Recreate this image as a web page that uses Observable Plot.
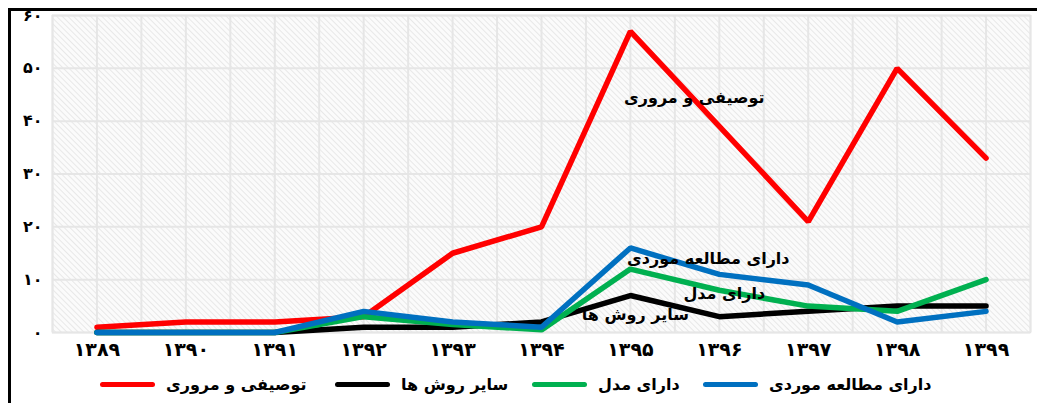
<!DOCTYPE html>
<html>
<head>
<meta charset="utf-8">
<script src="https://cdn.jsdelivr.net/npm/d3@7"></script>
<script src="https://cdn.jsdelivr.net/npm/@observablehq/plot@0.6"></script>
<style>
  html, body { margin: 0; padding: 0; background: #fff; }
  body { width: 1037px; height: 403px; position: relative; overflow: hidden; font-family: "DejaVu Sans", sans-serif; }
  #frame { position: absolute; left: 8px; top: 8px; width: 1100px; height: 500px; border-left: 3px solid #000; border-top: 3px solid #000; }
  #chart { position: absolute; left: 0; top: 0; }
  #legend { position: absolute; left: 0; top: 370px; width: 1037px; height: 28px; }
  .item { position: absolute; top: 0; height: 28px; display: flex; align-items: center; }
  .swatch { width: 55px; height: 5px; border-radius: 3px; margin-right: 11px; }
  .lab { font-weight: bold; font-size: 16px; color: #000; direction: rtl; white-space: nowrap; }
</style>
</head>
<body>
<div id="frame"></div>
<div id="chart"></div>
<div id="legend"></div>
<script>
// ---- data ----
const years = [1389, 1390, 1391, 1392, 1393, 1394, 1395, 1396, 1397, 1398, 1399];
const seriesNames = ["توصیفی و مروری", "سایر روش ها", "دارای مدل", "دارای مطالعه موردی"];
const seriesColors = ["#ff0000", "#000000", "#00b050", "#0070c0"];
const reviewValues = [1, 2, 2, 3, 15, 20, 57, 39, 21, 50, 33];
const otherValues  = [0, 0, 0, 1, 1, 2, 7, 3, 4, 5, 5];
const modelValues  = [0, 0, 0, 3, 1.5, 0.5, 12, 8, 5, 4, 10];
const caseValues   = [0, 0, 0, 4, 2, 1, 16, 11, 9, 2, 4];
const yTicks = [0, 10, 20, 30, 40, 50, 60];
// in-chart labels: [series index, anchor year, value, horizontal offset]
const annoSeries = [0, 3, 2, 1];
const annoYears  = [1396, 1396, 1396, 1395];
const annoValues = [44.5, 14, 7.3, 3.3];
const annoDx     = [-25, -11, 5, 5];

const fa = n => String(n).replace(/\d/g, d => "۰۱۲۳۴۵۶۷۸۹"[d]);

const allValues = [reviewValues, otherValues, modelValues, caseValues];
const rows = [];
allValues.forEach((vals, s) => vals.forEach((v, i) => rows.push({series: seriesNames[s], year: years[i], value: v})));
const annos = annoSeries.map((s, i) => ({text: seriesNames[s], year: annoYears[i], value: annoValues[i], dx: annoDx[i]}));
const gridX = d3.range(years[0] - 0.5, years[years.length - 1] + 0.51, 0.5);

const defsMark = () => {
  const g = d3.create("svg:g");
  const p = g.append("defs").append("pattern")
    .attr("id", "hatch").attr("patternUnits", "userSpaceOnUse")
    .attr("width", 4).attr("height", 4).attr("patternTransform", "rotate(-45)");
  p.append("rect").attr("width", 4).attr("height", 4).attr("fill", "#fbfbfb");
  p.append("line").attr("x1", 0).attr("y1", 0).attr("x2", 0).attr("y2", 4)
    .attr("stroke", "#dedede").attr("stroke-width", 1.3);
  return g.node();
};

const chart = Plot.plot({
  width: 1037,
  height: 365,
  marginLeft: 52,
  marginRight: 7,
  marginTop: 15,
  marginBottom: 33,
  style: {fontFamily: "DejaVu Sans, sans-serif", fontWeight: "bold", color: "#000", background: "transparent"},
  x: {domain: [years[0] - 0.5, years[years.length - 1] + 0.5], label: null},
  y: {domain: [0, 60], label: null},
  color: {domain: seriesNames, range: seriesColors},
  marks: [
    defsMark,
    Plot.frame({fill: "url(#hatch)", stroke: "#e4e4e4", strokeWidth: 1.5}),
    Plot.ruleX(gridX, {stroke: "#e6e6e6", strokeWidth: 2}),
    Plot.ruleY(yTicks, {stroke: "#e6e6e6", strokeWidth: 2}),
    Plot.axisX(years, {tickSize: 0, tickPadding: 10, tickFormat: fa, fontSize: 19, fontWeight: "bold", label: null}),
    Plot.axisY(yTicks, {tickSize: 0, tickPadding: 10, tickFormat: fa, fontSize: 16, fontWeight: "bold", label: null}),
    Plot.line(rows, {x: "year", y: "value", z: "series", stroke: "series", strokeWidth: 5.5, strokeLinejoin: "miter", strokeLinecap: "round"}),
    ...annos.map(a => Plot.text([a], {x: "year", y: "value", text: "text", dx: a.dx, fontSize: 16, fontWeight: "bold", fill: "#000"}))
  ]
});
document.getElementById("chart").appendChild(chart);

// legend
const legendLefts = [100, 335, 532, 703];
const legend = document.getElementById("legend");
seriesNames.forEach((name, i) => {
  const it = document.createElement("div");
  it.className = "item";
  it.style.left = legendLefts[i] + "px";
  it.innerHTML = `<div class="swatch" style="background:${seriesColors[i]}"></div><div class="lab">${name}</div>`;
  legend.appendChild(it);
});
</script>
</body>
</html>
